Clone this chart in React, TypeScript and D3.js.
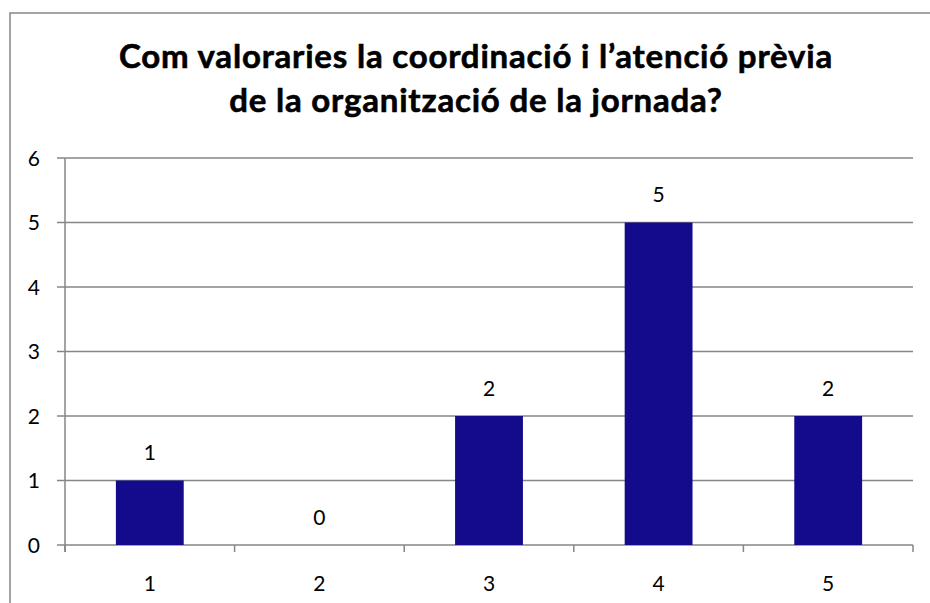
import React from "react";
import * as d3 from "d3";

const categories = ["1", "2", "3", "4", "5"];
const counts = [1, 0, 2, 5, 2];
const yTicks = [0, 1, 2, 3, 4, 5, 6];
const titleLines = [
  "Com valoraries la coordinació i l’atenció prèvia",
  "de la organització de la jornada?",
];

const W = 930;
const H = 603;
const left = 65;
const right = 913;
const top = 158;
const bottom = 545;
const barColor = "#140a8c";
const gridColor = "#868686";
const font = "Lato, 'Open Sans', sans-serif";

export default function App() {
  const x = d3.scaleBand().domain(categories).range([left, right]).paddingInner(0).paddingOuter(0);
  const y = d3.scaleLinear().domain([0, 6]).range([bottom, top]);
  const barW = x.bandwidth() * 0.4;

  return (
    <svg
      width={W}
      height={H}
      style={{ position: "absolute", left: 0, top: 0, background: "#fff" }}
    >
      {/* chart frame, runs off the right and bottom edge */}
      <rect x={10} y={13} width={W + 20} height={H + 20} fill="#fff" stroke={gridColor} strokeWidth={1.5} />

      <g fontFamily={font} fontWeight="bold" fontSize={33} letterSpacing={0.8} textAnchor="middle" fill="#000" stroke="#000" strokeWidth={0.6}>
        {titleLines.map((t, i) => (
          <text key={i} x={476} y={68 + i * 44}>{t}</text>
        ))}
      </g>

      {/* gridlines + y ticks */}
      {yTicks.map((t) => (
        <line key={t} x1={left - 8} x2={right} y1={y(t)} y2={y(t)} stroke={gridColor} strokeWidth={1.5} />
      ))}
      <line x1={left} x2={left} y1={top} y2={bottom + 7} stroke={gridColor} strokeWidth={1.5} />
      {d3.range(categories.length + 1).map((i) => {
        const xx = i < categories.length ? x(categories[i])! : right;
        return <line key={i} x1={xx} x2={xx} y1={bottom} y2={bottom + 7} stroke={gridColor} strokeWidth={1.5} />;
      })}

      <g fontFamily={font} fontSize={21} fill="#000">
        {yTicks.map((t) => (
          <text key={t} x={40} y={y(t)} dy="0.36em" textAnchor="end">{t}</text>
        ))}
        {categories.map((c) => (
          <text key={c} x={x(c)! + x.bandwidth() / 2} y={583} dy="0.36em" textAnchor="middle">{c}</text>
        ))}
      </g>

      {categories.map((c, i) => (
        <rect
          key={c}
          x={x(c)! + (x.bandwidth() - barW) / 2}
          y={y(counts[i])}
          width={barW}
          height={bottom - y(counts[i])}
          fill={barColor}
        />
      ))}

      <g fontFamily={font} fontSize={21} fill="#000" textAnchor="middle">
        {categories.map((c, i) => (
          <text key={c} x={x(c)! + x.bandwidth() / 2} y={y(counts[i]) - 28} dy="0.36em">{counts[i]}</text>
        ))}
      </g>
    </svg>
  );
}
